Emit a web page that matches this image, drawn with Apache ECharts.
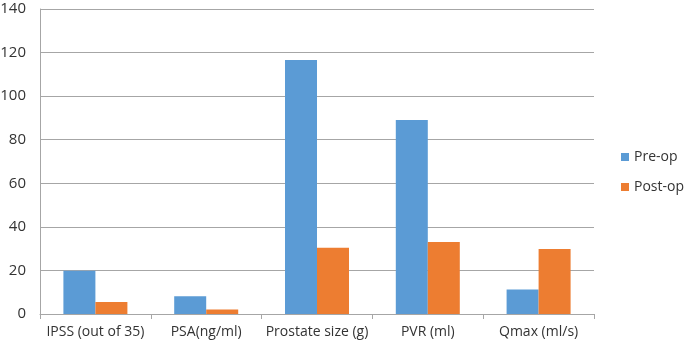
<!DOCTYPE html>
<html lang="en" style="height: 100%">

<head>
  <meta charset="UTF-8" />
  <title>Pre-op vs Post-op</title>
  <script src="https://cdn.jsdelivr.net/npm/echarts@6/dist/echarts.min.js"></script>
</head>

<body style="height: 100%; margin: 0; background: #fff">
  <div id="main" style="width: 685px; height: 345px"></div>
  <script type="text/javascript">
    // data
    var categories = ["IPSS (out of 35)", "PSA(ng/ml)", "Prostate size (g)", "PVR (ml)", "Qmax (ml/s)"];
    var preOp = [19.8, 8.2, 116.6, 89.1, 11.3];
    var postOp = [5.5, 2.1, 30.4, 33.0, 29.8];
    var seriesNames = ["Pre-op", "Post-op"];

    var myChart = echarts.init(document.getElementById("main"));

    var labelFont = { color: "#333333", fontSize: 14, fontFamily: "Open Sans" };

    var option = {
      animation: false,
      // keep the plot box fixed, labels may sit at the page edge
      grid: { left: 40, right: 91, top: 9, bottom: 31, outerBoundsMode: "none", containLabel: false },
      legend: {
        orient: "vertical",
        left: 621,
        top: 149,
        itemWidth: 8,
        itemHeight: 8,
        itemGap: 14,
        icon: "rect",
        padding: 0,
        textStyle: { color: "#333333", fontSize: 14, lineHeight: 16, fontFamily: "Open Sans" },
        data: seriesNames
      },
      xAxis: {
        type: "category",
        data: categories,
        axisLine: { lineStyle: { color: "#a6a6a6" } },
        axisTick: { show: true, length: 5, lineStyle: { color: "#a6a6a6" } },
        axisLabel: Object.assign({ margin: 11, interval: 0 }, labelFont)
      },
      yAxis: {
        type: "value",
        min: 0,
        max: 140,
        interval: 20,
        axisLine: { show: true, lineStyle: { color: "#a6a6a6" } },
        axisTick: { show: false },
        axisLabel: Object.assign({ margin: 14 }, labelFont, { fontSize: 15 }),
        splitLine: { lineStyle: { color: "#a6a6a6" } }
      },
      series: [
        {
          name: seriesNames[0],
          type: "bar",
          data: preOp,
          barWidth: 32,
          barGap: "0%",
          itemStyle: { color: "#5b9bd5" }
        },
        {
          name: seriesNames[1],
          type: "bar",
          data: postOp,
          barWidth: 32,
          barGap: "0%",
          itemStyle: { color: "#ed7d31" }
        }
      ]
    };

    myChart.setOption(option);
    window.addEventListener("resize", myChart.resize);
  </script>
</body>

</html>
